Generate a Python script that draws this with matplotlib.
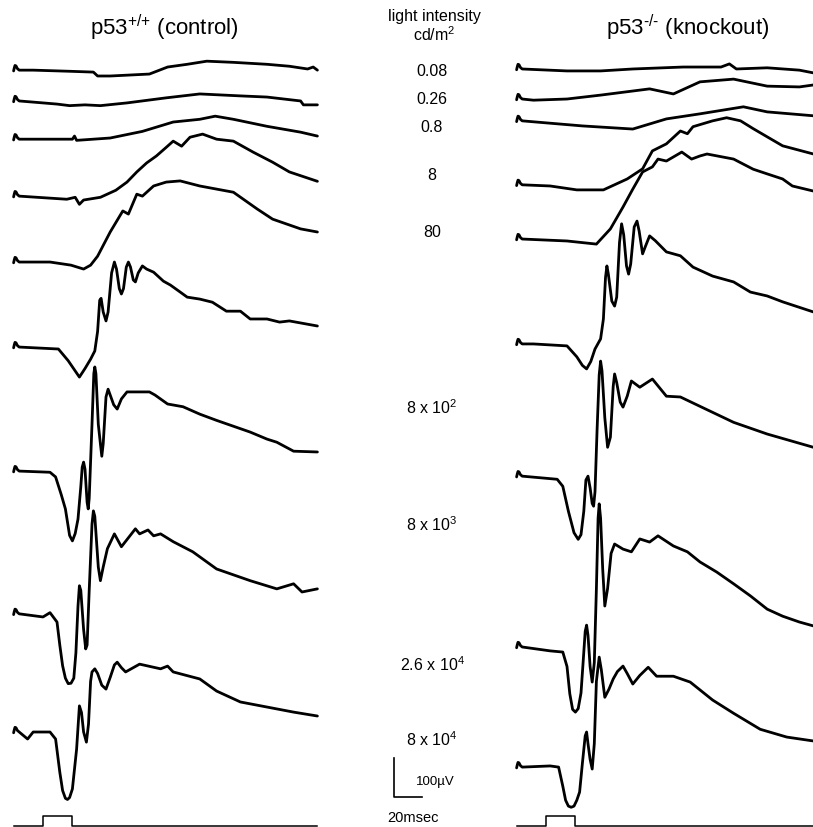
import numpy as np
import matplotlib
matplotlib.use('Agg')
from matplotlib import pyplot as plt

plt.rcParams['font.family'] = ['Liberation Sans', 'DejaVu Sans']
plt.rcParams['mathtext.fontset'] = 'custom'
plt.rcParams['mathtext.rm'] = 'Liberation Sans'
plt.rcParams['mathtext.default'] = 'regular'

# flash intensities (cd/m2), one row of traces per intensity
intensities = ['0.08', '0.26', '0.8', '8', '80', '8 x 10$^2$', '8 x 10$^3$',
               '2.6 x 10$^4$', '8 x 10$^4$']

# ERG traces: time in ms after flash onset, amplitude in uV from pre-flash level
blip_t = [-21, -20.5, -20, -19.3, -18.3, -17]
blip_v = [-2, 6, 12, 11, 4, 0]

control_t = [
    blip_t + [-7, 20, 36, 39, 48, 76, 89, 103, 117, 136, 160, 176, 189, 193, 196],
    blip_t + [0, 10, 19, 30, 41, 60, 88, 112, 141, 160, 184, 186, 196],
    blip_t + [-9, 21, 22.5, 24, 48, 71, 93, 112, 123, 136, 160, 184, 196],
    blip_t + [17, 23, 26, 29, 41, 52, 60, 67, 74, 81, 88, 93, 99, 105, 114, 124, 136, 150,
              164, 176, 196],
    blip_t + [5, 20, 29, 34, 39, 48, 57, 61, 67, 71, 79, 88, 98, 112, 136, 153, 164, 184,
              196],
    blip_t + [11, 18, 26, 30, 34, 37, 39, 40.5, 41.5, 43, 45, 46.5, 49, 51, 52.5, 54.5, 56,
              57.5, 59.5, 61, 62.5, 64.5, 66, 68, 71, 74, 79, 86, 91, 98, 103, 112, 121, 131,
              141, 148, 160, 169, 176, 196],
    blip_t + [5, 9, 13, 16, 19, 21, 23, 25, 27, 28, 29, 30, 31.5, 32.3, 33, 35, 36.3, 37,
              37.8, 39.5, 41, 42, 43, 45, 46.5, 48, 50.5, 53, 56, 60, 76, 80, 89, 100, 112,
              124, 136, 148, 160, 167, 179, 196],
    blip_t + [0, 5, 10, 12, 14, 16, 18, 20, 22, 23.5, 25, 26, 27, 29, 30.5, 31.5, 33, 35,
              36, 37, 39.5, 41, 43, 46, 51, 56, 66, 69, 75, 79, 84, 93, 107, 124, 148, 167,
              179, 185, 196],
    blip_t + [-11, -7, 5, 9, 12, 14, 16, 17.5, 19, 21, 24, 26, 27.5, 29, 31, 32.5, 34, 35,
              37, 39, 42, 45, 48, 51, 53, 56, 59, 69, 84, 89, 93, 112, 124, 141, 160, 179,
              196],
]
control_uv = [
    blip_v + [0, -3, -5, -15, -15, -10, 8, 15, 23, 20, 15, 10, 3, 8, 0],
    blip_v + [-5, -8, -12, -10, -12, -5, 8, 18, 13, 10, 0, -10, -10],
    blip_v + [0, 0, 8, -3, 3, 20, 44, 51, 59, 51, 33, 18, 8],
    blip_v + [-8, -3, -21, -10, -3, 15, 36, 62, 85, 103, 125, 141, 128, 151, 159, 146, 141,
              113, 87, 62, 38],
    blip_v + [0, -8, -18, -8, 15, 77, 131, 123, 174, 169, 195, 205, 208, 195, 179, 136, 110,
              85, 77],
    blip_v + [-5, -35, -77, -55, -31, -10, 40, 120, 125, 90, 67, 90, 190, 218, 200, 150, 136,
              150, 205, 218, 205, 172, 167, 190, 208, 200, 192, 169, 159, 141, 128, 123, 115,
              92, 92, 72, 72, 64, 67, 54],
    blip_v + [-3, -15, -60, -97, -165, -179, -160, -123, -40, 10, 23, 5, -80, -97, -70, 120,
              250, 267, 250, 120, 70, 38, 70, 190, 210, 195, 170, 159, 185, 203, 203, 195,
              172, 165, 146, 130, 115, 100, 82, 74, 51, 49],
    blip_v + [-8, 3, -21, -80, -133, -165, -179, -178, -165, -100, 20, 72, 60, -40, -90,
              -80, 60, 230, 264, 250, 120, 85, 120, 167, 205, 172, 218, 205, 215, 200, 205,
              185, 159, 115, 85, 64, 77, 56, 64],
    blip_v + [-18, 0, 0, -18, -103, -150, -170, -173, -168, -146, -44, 67, 50, 0, -26, 20,
              130, 154, 162, 150, 120, 110, 140, 172, 179, 165, 154, 174, 162, 169, 154, 136,
              105, 77, 64, 51, 41],
]

knockout_t = [
    blip_t + [15, 39, 62, 98, 125, 131, 136, 158, 181, 191],
    blip_t + [-9, 15, 39, 74, 91, 110, 134, 158, 181, 191],
    blip_t + [26, 62, 86, 110, 141, 158, 191],
    blip_t + [3, 22, 41, 58, 69, 76, 86, 96, 101, 105, 119, 129, 139, 148, 158, 169, 191],
    blip_t + [15, 36, 46, 55, 62, 69, 76, 80, 86, 97, 104, 110, 115, 134, 148, 158, 169,
              176, 191],
    blip_t + [-9, 15, 22, 26, 29, 32, 35, 39, 41, 42.5, 43.5, 44.5, 47, 49, 50.5, 52.5, 54,
              55.5, 57.5, 59, 60.5, 63, 65, 66.5, 69, 71, 74, 78, 86, 96, 105, 119, 134, 146,
              158, 169, 191],
    blip_t + [8, 12, 16, 20, 23, 25, 27, 28.5, 30, 31.5, 33, 34, 35, 36.5, 38, 39, 40, 42,
              44, 46, 48, 49, 50.5, 53, 55, 58, 61, 67, 76, 86, 96, 110, 134, 158, 191],
    blip_t + [3, 12, 15, 17, 19, 21, 23, 25, 26.5, 28, 29, 30, 31.5, 33, 34.5, 36, 37.2, 38,
              39, 40.5, 42, 44, 46.5, 49, 55, 61, 67, 74, 80, 91, 101, 110, 122, 134, 146,
              158, 169, 181, 191],
    blip_t + [3, 9, 12, 14, 16, 18, 20, 22, 24, 26, 28, 29, 30, 31.5, 33, 34.5, 36, 38,
              39.5, 42, 45, 48, 51, 55, 58, 62, 67, 73, 79, 91, 103, 119, 134, 153, 172, 191],
]
knockout_uv = [
    blip_v + [-5, -5, 0, 5, 5, 13, 0, 3, -3, -10],
    blip_v + [-3, 0, 10, 26, 13, 44, 51, 33, 31, 36],
    blip_v + [-13, -21, 5, 18, 36, 23, 13],
    blip_v + [-3, -13, -13, 15, 41, 87, 105, 138, 131, 149, 164, 172, 164, 144, 123, 100, 79],
    blip_v + [-5, -13, 26, 82, 128, 172, 185, 205, 200, 223, 205, 213, 218, 205, 179, 167,
              154, 136, 123],
    blip_v + [0, -5, -33, -55, -64, -45, -13, 13, 64, 170, 200, 180, 110, 97, 120, 260, 308,
              280, 200, 179, 205, 300, 315, 290, 231, 250, 277, 265, 236, 226, 197, 174, 159,
              133, 123, 108, 82],
    blip_v + [-8, -26, -90, -145, -162, -150, -90, -10, 0, -30, -70, -77, -40, 120, 260, 295,
              270, 150, 74, 100, 230, 262, 240, 190, 177, 205, 244, 228, 249, 205, 203, 179,
              138, 108, 74],
    blip_v + [-10, -13, -50, -120, -160, -167, -158, -118, -40, 40, 56, 30, -50, -90, -40,
              150, 330, 367, 330, 200, 105, 150, 240, 264, 251, 244, 277, 269, 285, 259, 244,
              218, 192, 162, 131, 97, 79, 64, 54],
    blip_v + [3, 0, -49, -85, -100, -103, -100, -85, -64, 10, 80, 90, 60, 20, -5, 60, 220,
              282, 250, 179, 200, 226, 245, 259, 240, 213, 235, 256, 233, 233, 218, 172, 138,
              97, 77, 67],
]

# vertical stacking of the rows (uV above the stimulus line)
control_offset = [1938, 1859, 1761, 1615, 1446, 1228, 910, 544, 241]
knockout_offset = [1941, 1864, 1808, 1644, 1505, 1236, 897, 459, 151]

# stimulus marker: flash on from 0 to 21 ms
stim_t = [-21, 0, 0, 21, 21, 196]
stim_v = [0, 0, 26, 26, 0, 0]

W, H = 813, 828
PX_MS = 1.4      # pixels per ms
UV_PX = 2.564    # uV per pixel

fig = plt.figure(figsize=(W / 100, H / 100), dpi=100)


def panel(x_flash, times, uvs, offsets, t_end):
    ax = fig.add_axes([(x_flash - 22 * PX_MS) / W, 0, 220 * PX_MS / W, 1])
    ax.set_xlim(-22, 198)
    ax.set_ylim(-1 * UV_PX, 827 * UV_PX)
    ax.axis('off')
    for t, v, off in zip(times, uvs, offsets):
        ax.plot(t, np.array(v) + off, color='black', lw=2.0,
                solid_joinstyle='round', solid_capstyle='round')
    st = list(stim_t)
    st[-1] = t_end
    ax.plot(st, stim_v, color='black', lw=1.1)
    return ax


ax_l = panel(43, control_t, control_uv, control_offset, 196)
ax_r = panel(546, knockout_t, knockout_uv, knockout_offset, 191)

# scale bar: 100 uV, 20 ms
ax_l.plot([251, 251, 271], [174, 74, 74], color='black', lw=1.2, clip_on=False)


def ftext(x, y, s, **kw):
    fig.text(x / W, 1 - y / H, s, ha='center', va='center', **kw)


ftext(164, 28, r'p53$^{\text{+/+}}$ (control)', fontsize=16)
ftext(688, 28, r'p53$^{\text{-/-}}$ (knockout)', fontsize=16)
ftext(434, 16, 'light intensity', fontsize=11.5)
ftext(434, 35, 'cd/m$^2$', fontsize=11.5)
label_y = [72, 100, 128, 175, 233, 408, 525, 665, 740]
for lab, y in zip(intensities, label_y):
    ftext(432, y, lab, fontsize=11.5)
fig.text(416 / W, 1 - 782 / H, '100µV', ha='left', va='center', fontsize=9.5)
ftext(413, 818, '20msec', fontsize=10.5)

fig.savefig('out.png', dpi=100)
